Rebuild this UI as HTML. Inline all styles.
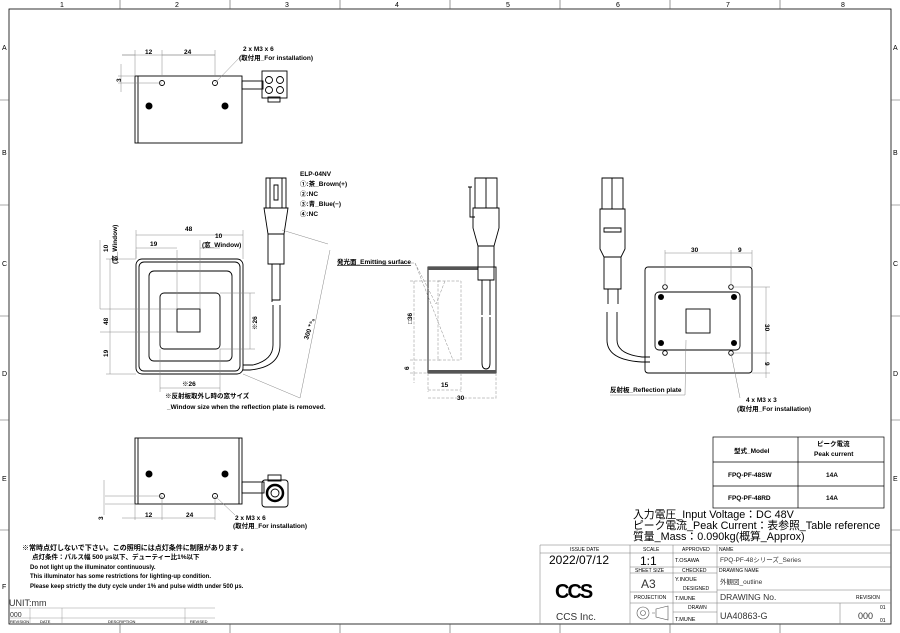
<!DOCTYPE html>
<html><head><meta charset="utf-8"><style>
html,body{margin:0;padding:0;background:#fff}
svg{display:block}
text{font-family:"Liberation Sans","Noto Sans CJK JP",sans-serif;fill:#000}
.b{font-weight:bold;font-size:6.5px}
.t{font-size:5px;fill:#333}
.d{stroke:#888;stroke-width:0.5;fill:none}
.k{stroke:#000;stroke-width:0.9;fill:none}
.g{stroke:#555;stroke-width:0.6;fill:none}
</style></head><body>
<svg width="900" height="633" viewBox="0 0 900 633" xmlns="http://www.w3.org/2000/svg">
<rect x="0" y="0" width="900" height="633" fill="#fff"/>
<rect x="9" y="9" width="882" height="615" fill="none" stroke="#000" stroke-width="0.8"/>
<g class="g">
<path d="M120 0V9M230 0V9M340 0V9M450 0V9M560 0V9M670 0V9M780 0V9M0 100H9M0 205H9M0 316H9M0 420H9M0 530H9M891 100H900M891 205H900M891 316H900M891 420H900M891 530H900M120 624V633M230 624V633M340 624V633M450 624V633M560 624V633M670 624V633M780 624V633"/>
</g>
<g style="font-size:7px;fill:#444">
<text x="60" y="7">1</text><text x="175" y="7">2</text><text x="285" y="7">3</text><text x="395" y="7">4</text><text x="506" y="7">5</text><text x="616" y="7">6</text><text x="726" y="7">7</text><text x="841" y="7">8</text>
<text x="2" y="50">A</text><text x="2" y="155">B</text><text x="2" y="266">C</text><text x="2" y="376">D</text><text x="2" y="481">E</text><text x="2" y="589">F</text>
<text x="893" y="50">A</text><text x="893" y="155">B</text><text x="893" y="266">C</text><text x="893" y="376">D</text><text x="893" y="481">E</text>
</g>

<rect x="135" y="76" width="107" height="67" class="k"/>
<line x1="138" y1="76" x2="138" y2="143" class="k"/>
<circle cx="162" cy="83" r="2.5" class="k"/><circle cx="215" cy="83" r="2.5" class="k"/>
<circle cx="149" cy="106" r="3.5" fill="#000"/><circle cx="225" cy="106" r="3.5" fill="#000"/>
<rect x="242" y="81" width="21" height="8" class="k"/>
<rect x="262" y="71" width="25" height="27" class="k"/>
<circle cx="269" cy="80" r="3.5" class="k"/><circle cx="280" cy="80" r="3.5" class="k"/><circle cx="269" cy="90" r="3.5" class="k"/><circle cx="280" cy="90" r="3.5" class="k"/>
<rect x="268" y="97" width="12" height="5" class="k"/>
<g class="d"><path d="M122 55H215M135 50V76M162 50V76M215 50V76M122 55H135M162 55H215M121 64V92M118 76H135M118 83H162M215 83L242 55"/></g>
<text x="145" y="54" class="b">12</text><text x="184" y="54" class="b">24</text>
<text x="121" y="82" class="b" transform="rotate(-90 121 82)">3</text>
<text x="243" y="51" class="b">2 x M3 x 6</text><text x="239" y="60" class="b">(取付用_For installation)</text>

<rect x="136" y="259" width="107" height="115" rx="6" class="k"/>
<rect x="139" y="262" width="101" height="109" rx="5" class="k"/>
<rect x="149" y="271" width="83" height="90" rx="5" class="k"/>
<rect x="160" y="293" width="60" height="56" rx="4" class="k"/>
<rect x="177" y="309" width="23" height="23" class="k"/>
<path d="M266 178h20v30h-20zM270 178v30M282 178v30M274 185h4v15h-4zM264 208h24l-4 26h-16zM268 234h16v30h-16zM272 264v36h8v-36M272 300v2M273 305v40 q0 15-20 20h-10M280 305v40q0 22-30 25h-7" class="k"/>
<g class="d"><path d="M136 230V259M243 230V259M136 235H243M136 250V258M177 250V309M200 240V309M136 248H177M200 248H220M106 259H136M106 374H136M110 259V374M100 309H177M100 332H177M100 240V309M160 349V392M220 349V392M160 388H220M220 293H255M220 349H255M250 293V349M243 374L300 398M282 230L328 244M300 398L330 250"/></g>
<text x="185" y="231" class="b">48</text>
<text x="215" y="238" class="b">10</text><text x="202" y="247" class="b">(窓_Window)</text>
<text x="150" y="246" class="b">19</text>
<text x="108" y="252" class="b" transform="rotate(-90 108 252)">10</text>
<text x="117" y="264" class="b" transform="rotate(-90 117 264)">(窓_Window)</text>
<text x="108" y="325" class="b" transform="rotate(-90 108 325)">48</text>
<text x="108" y="357" class="b" transform="rotate(-90 108 357)">19</text>
<text x="182" y="386" class="b">※26</text>
<text x="257" y="330" class="b" transform="rotate(-90 257 330)">※26</text>
<text x="308" y="340" class="b" transform="rotate(-72 308 340)">300 ⁺⁵₀</text>
<text x="300" y="176" class="b">ELP-04NV</text>
<text x="300" y="186" class="b">①:茶_Brown(+)</text>
<text x="300" y="196" class="b">②:NC</text>
<text x="300" y="206" class="b">③:青_Blue(−)</text>
<text x="300" y="216" class="b">④:NC</text>
<text x="165" y="398" class="b">※反射板取外し時の窓サイズ</text>
<text x="167" y="409" class="b">_Window size when the reflection plate is removed.</text>

<rect x="428" y="267" width="68" height="106" class="k"/>
<rect x="428" y="267" width="50" height="3" fill="#555"/>
<rect x="428" y="370" width="68" height="3" fill="#555"/>
<path d="M475 178h22v30h-22zM486 178v30M470 187v30h5M468 187h4M473 208h26v20l-5 18h-16l-5-18zM478 246h16v34h-16zM482 280v35M490 280v35M482 317v46q0 6 4 6q4 0 4-6v-46" class="k"/>
<g class="d"><path d="M438 281H461V360H438ZM410 281H440M410 360H440M414 281V373M414 373V383M410 373H428M428 373V392M461 373V392M496 373V400M428 390H461M428 398H496M375 263H415L453 360M415 263L436 304L445 281" stroke-dasharray="3 1.5"/></g>
<text x="337" y="264" class="b" style="text-decoration:underline">発光面_Emitting surface</text>
<text x="412" y="324" class="b" transform="rotate(-90 412 324)">□36</text>
<text x="409" y="370" class="b" transform="rotate(-90 409 370)">6</text>
<text x="441" y="387" class="b">15</text><text x="457" y="400" class="b">30</text>

<rect x="645" y="267" width="107" height="106" rx="3" class="k"/>
<rect x="655" y="292" width="85" height="58" rx="4" class="k"/>
<rect x="686" y="309" width="24" height="24" class="k"/>
<g fill="#000"><circle cx="661" cy="297" r="3"/><circle cx="734" cy="297" r="3"/><circle cx="661" cy="343" r="3"/><circle cx="734" cy="343" r="3"/></g>
<g class="k"><circle cx="665" cy="287" r="2.3"/><circle cx="731" cy="287" r="2.3"/><circle cx="665" cy="353" r="2.3"/><circle cx="731" cy="353" r="2.3"/></g>
<path d="M602 178h21v31h-21zM612 178v31M600 209h25v40l-4 8h-17l-4-8zM604 228h17v4h-17zM604 257h17v32h-17zM608 289v15M618 289v15M607 312v28q0 20 35 22h8M617 312v28q0 14 25 17h8" class="k"/>
<g class="d"><path d="M665 250V285M731 250V285M752 250V267M665 253H752M733 287H770M733 353H770M752 373H770M766 287V378M731 353L740 398M686 340L685 395M610 395H685"/></g>
<text x="691" y="252" class="b">30</text><text x="738" y="252" class="b">9</text>
<text x="765" y="324" class="b" transform="rotate(90 765 324)">30</text>
<text x="765" y="362" class="b" transform="rotate(90 765 362)">9</text>
<text x="610" y="392" class="b">反射板_Reflection plate</text>
<text x="746" y="402" class="b">4 x M3 x 3</text><text x="737" y="411" class="b">(取付用_For installation)</text>

<rect x="135" y="438" width="107" height="66" class="k"/>
<line x1="138" y1="438" x2="138" y2="504" class="k"/><line x1="239" y1="438" x2="239" y2="504" class="k"/>
<circle cx="149" cy="474" r="3.5" fill="#000"/><circle cx="225" cy="474" r="3.5" fill="#000"/>
<circle cx="162" cy="496" r="2.5" class="k"/><circle cx="215" cy="496" r="2.5" class="k"/>
<rect x="242" y="482" width="22" height="11" class="k"/>
<rect x="262" y="480" width="26" height="27" rx="3" class="k"/><rect x="268" y="475" width="13" height="6" class="k"/>
<circle cx="275" cy="493" r="8" fill="none" stroke="#000" stroke-width="2.5"/><circle cx="275" cy="493" r="4" class="k"/>
<g class="d"><path d="M105 496H162M105 504H135M104 480V515M135 504V520M162 496V520M215 496V520M122 518H215M215 496L235 515"/></g>
<text x="145" y="517" class="b">12</text><text x="186" y="517" class="b">24</text>
<text x="103" y="520" class="b" transform="rotate(-90 103 520)">3</text>
<text x="235" y="520" class="b">2 x M3 x 6</text><text x="233" y="528" class="b">(取付用_For installation)</text>

<g stroke="#000" stroke-width="0.7" fill="none">
<rect x="713" y="437" width="171" height="71"/>
<line x1="713" y1="462" x2="884" y2="462"/><line x1="713" y1="486" x2="884" y2="486"/>
<line x1="798" y1="437" x2="798" y2="508"/>
</g>
<text x="734" y="453" class="b">型式_Model</text>
<text x="817" y="446" class="b">ピーク電流</text><text x="814" y="456" class="b">Peak current</text>
<text x="728" y="477" class="b">FPQ-PF-48SW</text><text x="826" y="477" class="b">14A</text>
<text x="728" y="500" class="b">FPQ-PF-48RD</text><text x="826" y="500" class="b">14A</text>
<g style="font-size:10.8px">
<text x="633" y="518">入力電圧_Input Voltage：DC 48V</text>
<text x="633" y="529">ピーク電流_Peak Current：表参照_Table reference</text>
<text x="633" y="540">質量_Mass：0.090kg(概算_Approx)</text>
</g>

<g stroke="#777" stroke-width="0.5" fill="none">
<path d="M540 545H891M540 553H891M630 567H891M630 573H717M630 592H717M717 590H891M630 603H891M673 612H717M540 545V624M630 545V624M673 545V624M717 545V624M840 603V624"/>
</g>
<g class="t">
<text x="570" y="551">ISSUE DATE</text><text x="643" y="551">SCALE</text><text x="682" y="551">APPROVED</text><text x="719" y="551">NAME</text>
<text x="635" y="572">SHEET  SIZE</text><text x="682" y="572">CHECKED</text><text x="719" y="572">DRAWING  NAME</text>
<text x="683" y="590">DESIGNED</text><text x="634" y="599">PROJECTION</text><text x="688" y="609">DRAWN</text>
<text x="856" y="599">REVISION</text>
</g>
<text x="549" y="564" style="font-size:12px">2022/07/12</text>
<text x="640" y="565" style="font-size:12px">1:1</text>
<text x="641" y="588" style="font-size:12px;fill:#333">A3</text>
<text x="675" y="562" style="font-size:5.5px">T.OSAWA</text>
<text x="675" y="581" style="font-size:5.5px">Y.INOUE</text>
<text x="675" y="600" style="font-size:5.5px">T.MUNE</text>
<text x="675" y="621" style="font-size:5.5px">T.MUNE</text>
<text x="720" y="562" style="font-size:6.5px;fill:#333">FPQ-PF-48シリーズ_Series</text>
<text x="720" y="584" style="font-size:6.5px;fill:#333">外観図_outline</text>
<text x="720" y="600" style="font-size:8.5px;fill:#333">DRAWING No.</text>
<text x="720" y="619" style="font-size:9px;fill:#333">UA40863-G</text>
<text x="858" y="619" style="font-size:9px;fill:#333">000</text>
<text x="880" y="609" style="font-size:5px">01</text><text x="880" y="622" style="font-size:5px">01</text>
<text x="555" y="598" style="font-size:20px;font-weight:bold;letter-spacing:-2px">CCS</text>
<text x="556" y="620" style="font-size:10px;fill:#333">CCS Inc.</text>
<g class="g"><circle cx="643" cy="613" r="6"/><circle cx="643" cy="613" r="2.5"/><path d="M652 613h3M656 609L668 606V620L656 617Z"/></g>

<g style="font-weight:bold">
<text x="22" y="550" style="font-size:7px">※常時点灯しないで下さい。この照明には点灯条件に制限があります 。</text>
<text x="32" y="559" style="font-size:6.5px">点灯条件：パルス幅 500 μs以下、デューティー比1%以下</text>
<text x="30" y="569" style="font-size:6px">Do not light up the illuminator continuously.</text>
<text x="30" y="578" style="font-size:6px">This illuminator has some restrictions for lighting-up condition.</text>
<text x="30" y="588" style="font-size:6px">Please keep strictly the duty cycle under 1% and pulse width under 500 μs.</text>
</g>
<text x="9" y="606" style="font-size:9px;fill:#333">UNIT:mm</text>
<g stroke="#999" stroke-width="0.5" fill="none"><path d="M9 608H215M9 618H215M30 608V624M62 608V624M185 608V624"/></g>
<text x="10" y="617" style="font-size:7px;fill:#333">000</text>
<g class="t" style="font-size:4px"><text x="10" y="623">REVISION</text><text x="40" y="623">DATE</text><text x="108" y="623">DESCRIPTION</text><text x="190" y="623">REVISED</text></g>
</svg>
</body></html>
